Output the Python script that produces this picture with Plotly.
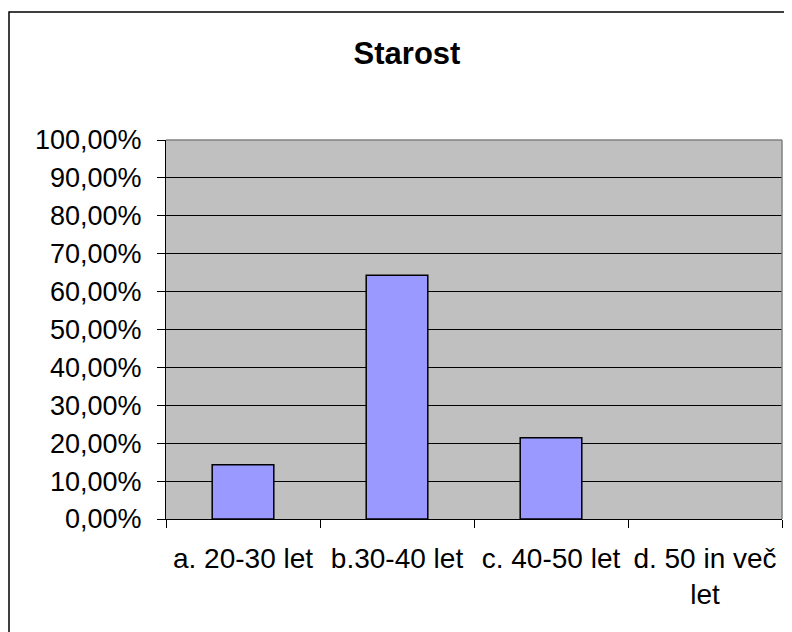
import plotly.graph_objects as go

categories = ["a. 20-30 let", "b.30-40 let", "c. 40-50 let", "d. 50 in več<br>let"]
values = [0.1429, 0.6429, 0.2143, 0.0]
title_text = "Starost"

# page has an 8px body margin; the figure is sized to fit the 792x632 window
W, H = 784, 624
PL, PR, PT, PB = 158, 774, 132, 511  # plot area in figure pixels

fig = go.Figure()
fig.add_trace(go.Bar(
    x=categories, y=values,
    marker=dict(color="#9999FF",
                line=dict(color="black", width=[1.5 if v > 0 else 0 for v in values])),
))

FONT = "Liberation Sans, Arial, sans-serif"
fig.update_layout(
    width=W, height=H,
    margin=dict(l=PL, r=W - PR, t=PT, b=H - PB),
    paper_bgcolor="white", plot_bgcolor="#C0C0C0",
    separators=",.",
    bargap=0.6,
    showlegend=False,
    font=dict(family=FONT, size=27, color="black"),
    title=dict(text="<b>" + title_text + "</b>", x=399 / W, xref="container", xanchor="center",
               y=1 - 45 / H, yanchor="middle", font=dict(family=FONT, size=31, color="black")),
    xaxis=dict(type="category", tickson="boundaries", ticks="outside", ticklen=8, tickcolor="black",
               showline=True, linecolor="black", linewidth=1, showgrid=False,
               ticklabelstandoff=14, tickfont=dict(family=FONT, size=28)),
    yaxis=dict(range=[0, 1], dtick=0.1, tick0=0, tickformat=".2%", ticks="outside", ticklen=8,
               tickcolor="black", showline=True, linecolor="black", linewidth=1,
               showgrid=True, gridcolor="black", gridwidth=1, zeroline=False,
               ticklabelstandoff=10, tickfont=dict(family=FONT, size=27)),
    shapes=[
        dict(type="line", xref="paper", yref="paper", x0=0, x1=1, y0=1, y1=1,
             line=dict(color="#808080", width=1.5), layer="above"),
        dict(type="line", xref="paper", yref="paper", x0=1, x1=1, y0=0, y1=1,
             line=dict(color="#808080", width=1.5), layer="above"),
        dict(type="rect", xref="paper", yref="paper",
             x0=(1 - PL) / (PR - PL), x1=1.2, y0=-0.5, y1=(PB - 4) / (PB - PT),
             line=dict(color="black", width=1.5), fillcolor="rgba(0,0,0,0)", layer="above"),
    ],
)

fig.write_html("out.html")
